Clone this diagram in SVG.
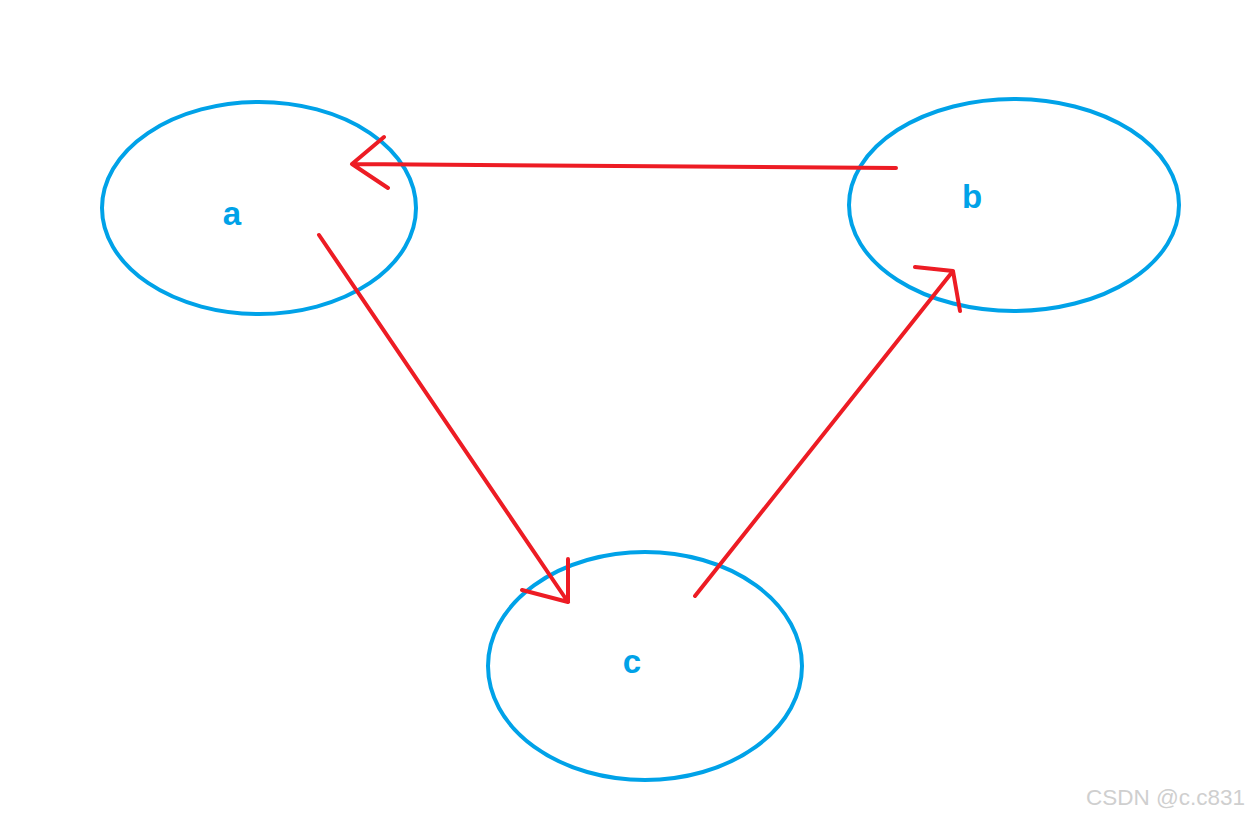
<svg xmlns="http://www.w3.org/2000/svg" width="1249" height="816" viewBox="0 0 1249 816">
<style>
.node{fill:none;stroke:#00a2e8;stroke-width:4}
.lbl{font-family:"Liberation Sans",Arial,sans-serif;font-weight:bold;font-size:33px;fill:#00a2e8;text-anchor:middle}
.edge{fill:none;stroke:#ed1c24;stroke-width:4;stroke-linecap:round;stroke-linejoin:round}
.wm{font-family:"Liberation Sans",Arial,sans-serif;font-size:22.5px;fill:#cfcfcf}
</style>
<rect width="1249" height="816" fill="#ffffff"/>
<g id="node-a"><ellipse class="node" cx="259" cy="208" rx="157" ry="106"/><text class="lbl" x="232" y="225">a</text></g>
<g id="node-b"><ellipse class="node" cx="1014" cy="205" rx="165" ry="106"/><text class="lbl" x="972" y="208">b</text></g>
<g id="node-c"><ellipse class="node" cx="645" cy="666" rx="157" ry="114"/><text class="lbl" x="632" y="673">c</text></g>
<g id="connectors">
<path class="edge" d="M896 168 L352 164 M384 137 L352 164 L388 188"/>
<path class="edge" d="M319 235 L568 602 M568 559 L568 602 L522 590"/>
<path class="edge" d="M695 596 L953 271 M915 267 L953 271 L960 311"/>
</g>
<text class="wm" x="1086" y="805">CSDN @c.c831</text>
</svg>
